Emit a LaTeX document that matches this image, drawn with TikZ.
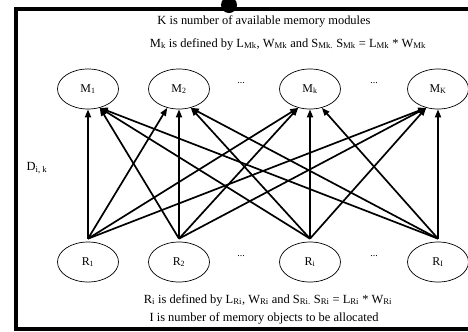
\documentclass[tikz,border=0pt]{standalone}
\usepackage{fontspec}
\setmainfont{Liberation Serif}
\usetikzlibrary{arrows.meta,shapes.geometric}
\begin{document}
\begin{tikzpicture}[x=1bp,y=-1bp,
  mem/.style={draw, ellipse, line width=0.7bp, minimum width=61bp, minimum height=40bp, inner sep=0pt, font=\fontsize{12}{14}\selectfont},
  conn/.style={line width=1.7bp, -{Triangle[length=8bp,width=6bp]}},
  lbl/.style={font=\fontsize{12.5}{15}\selectfont, inner sep=0pt},
  dotlbl/.style={font=\fontsize{10}{12}\selectfont, inner sep=0pt}]
\useasboundingbox (0,0) rectangle (468,331);
\begin{scope}
\clip (0,0) rectangle (468,331);
\draw[line width=4bp] (490,9) -- (16,9) -- (16,329) -- (490,329);
\fill (229,5) circle[radius=8bp];
\end{scope}
% texts
\node[lbl] (t1) at (264,21) {K is number of available memory modules};
\node[lbl] (t2) at (288,44) {M\textsubscript{k} is defined by L\textsubscript{Mk}, W\textsubscript{Mk} and S\textsubscript{Mk.} S\textsubscript{Mk} = L\textsubscript{Mk} * W\textsubscript{Mk}};
\node[lbl] (t3) at (268,300) {R\textsubscript{i} is defined by L\textsubscript{Ri}, W\textsubscript{Ri} and S\textsubscript{Ri.} S\textsubscript{Ri} = L\textsubscript{Ri} * W\textsubscript{Ri}};
\node[lbl] (t4) at (264,318) {I is number of memory objects to be allocated};
\node[lbl] (d) at (37,168) {D\textsubscript{i, k}};
% memory nodes
\node[mem] (M1) at (88,89) {M\textsubscript{1}};
\node[mem] (M2) at (179,89) {M\textsubscript{2}};
\node[mem] (Mk) at (310,89) {M\textsubscript{k}};
\node[mem] (MK) at (438,89) {M\textsubscript{K}};
\node[dotlbl] (md1) at (241,83) {...};
\node[dotlbl] (md2) at (374,83) {...};
% objects
\node[mem] (R1) at (88,262) {R\textsubscript{1}};
\node[mem] (R2) at (179,262) {R\textsubscript{2}};
\node[mem] (Ri) at (310,262) {R\textsubscript{i}};
\node[mem] (RI) at (438,262) {R\textsubscript{I}};
\node[dotlbl] (rd1) at (241,256) {...};
\node[dotlbl] (rd2) at (374,256) {...};
% connection points
\foreach \n in {R1,R2,Ri,RI}{\coordinate (\n s) at ([yshift=3bp]\n.north);}
\foreach \n in {M1,M2,Mk,MK}{
  \coordinate (\n c) at (\n.south);
  \coordinate (\n l) at (\n.-122);
  \coordinate (\n r) at (\n.-58);
}
% arrows
\draw[conn] (R1s) -- (M1c);
\draw[conn] (R2s) -- (M1r);
\draw[conn] (Ris) -- (M1r);
\draw[conn] (RIs) -- (M1r);
\draw[conn] (R1s) -- (M2l);
\draw[conn] (R2s) -- (M2c);
\draw[conn] (Ris) -- (M2r);
\draw[conn] (RIs) -- (M2r);
\draw[conn] (R1s) -- (Mkl);
\draw[conn] (R2s) -- (Mkl);
\draw[conn] (Ris) -- (Mkc);
\draw[conn] (RIs) -- (Mkr);
\draw[conn] (R1s) -- (MKl);
\draw[conn] (R2s) -- (MKl);
\draw[conn] (Ris) -- (MKl);
\draw[conn] (RIs) -- (MKc);
\end{tikzpicture}
\end{document}
